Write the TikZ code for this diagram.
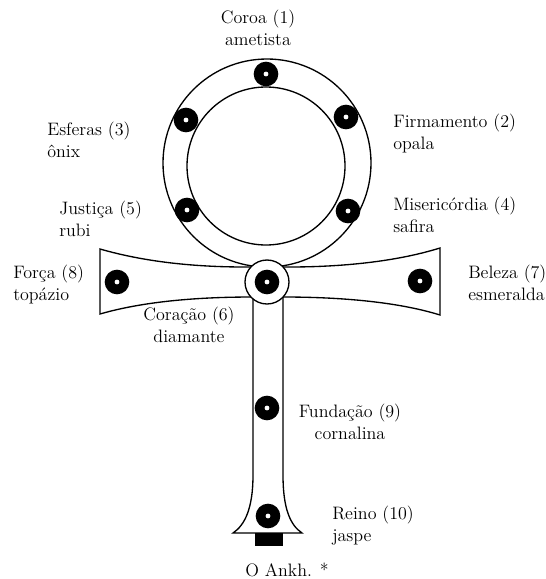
\documentclass[tikz,border=0pt]{standalone}
\usepackage{tikz}
\usetikzlibrary{positioning}

\begin{document}
\begin{tikzpicture}[
    x=0.75pt, y=-0.75pt,
    outline/.style={draw, line width=1pt, fill=white},
    gem/.style={circle, fill=black, minimum size=18.5pt, inner sep=0pt,
        path picture={\fill[white] (path picture bounding box.center) circle (2.4);}},
    heart/.style={circle, draw, line width=1pt, fill=white, minimum size=33pt, inner sep=0pt},
    stone/.style={font=\fontsize{13.5}{16.5}\selectfont, align=left, anchor=base west, inner sep=0pt}
]
    \useasboundingbox (0,0) rectangle (546,579);

    % Ring
    \draw[line width=1pt] (267,163) circle (104);
    \draw[line width=1pt] (266,166) circle (79);

    % Body
    \draw[outline] (100,249) .. controls (145,262) and (195,267) .. (245,267) -- (289,267)
        .. controls (340,267) and (395,262) .. (440,248) -- (440,315)
        .. controls (395,301) and (335,297) .. (283,297) -- (283,475)
        .. controls (283,508) and (290,525) .. (302,533) -- (233,533)
        .. controls (245,525) and (253,508) .. (253,475) -- (253,297)
        .. controls (200,297) and (145,301) .. (100,314) -- cycle;
    \fill (255,533) rectangle (283,546);

    % Heart
    \node[heart] (heart) at (267,282) {};

    % Gems
    \node[gem] (g1) at (266,74) {};
    \node[gem] (g2) at (346,117) {};
    \node[gem] (g3) at (186,120) {};
    \node[gem] (g4) at (348,211) {};
    \node[gem] (g5) at (187,210) {};
    \node[gem] (g6) at (heart) {};
    \node[gem] (g7) at (420,281) {};
    \node[gem] (g8) at (117,282) {};
    \node[gem] (g9) at (267,408) {};
    \node[gem] (g10) at (268,516) {};

    % Labels (anchored at the baseline of the second line)
    \node[stone, align=center, anchor=base] (l1) at (258,45) {Coroa (1)\\ametista};
    \node[stone] (l2) at (393,149) {Firmamento (2)\\opala};
    \node[stone] (l3) at (47,157) {Esferas (3)\\ônix};
    \node[stone] (l4) at (393,232) {Misericórdia (4)\\safira};
    \node[stone] (l5) at (59,236) {Justiça (5)\\rubi};
    \node[stone, align=center, anchor=base] (l6) at (189,342) {Coração (6)\\diamante};
    \node[stone] (l7) at (468,300) {Beleza (7)\\esmeralda};
    \node[stone] (l8) at (13,300) {Força (8)\\topázio};
    \node[stone, align=center, anchor=base] (l9) at (350,439) {Fundação (9)\\cornalina};
    \node[stone] (l10) at (332,541) {Reino (10)\\jaspe};
    \node[stone, anchor=base] (caption) at (287,576) {O Ankh. *};
\end{tikzpicture}
\end{document}
